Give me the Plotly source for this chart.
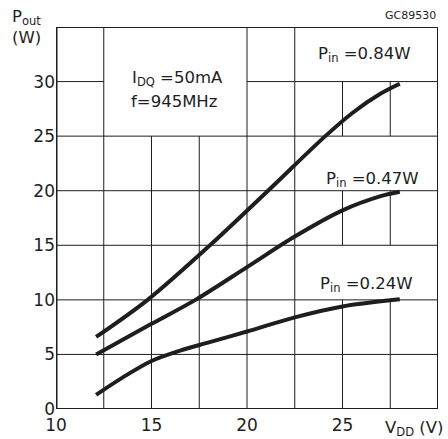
import plotly.graph_objects as go

# Data
vdd_084 = [12.1, 14.8, 18.06, 21.1, 24.1, 25.5, 27, 28]
pout_084 = [6.6, 10.0, 15.0, 20.0, 25.0, 27.1, 28.9, 29.8]

vdd_047 = [12.1, 15, 17.3, 20, 22.5, 25, 27, 28]
pout_047 = [5.0, 7.8, 10.0, 13.0, 15.8, 18.2, 19.5, 19.9]

vdd_024 = [12.1, 13.5, 15, 16.5, 18, 20, 22.5, 25, 28]
pout_024 = [1.3, 2.9, 4.4, 5.35, 6.1, 7.1, 8.4, 9.4, 10.05]

x_ticks = [10, 15, 20, 25]
y_ticks = [0, 5, 10, 15, 20, 25, 30]
x_grid = [12.5, 15, 17.5, 20, 22.5, 25, 27.5]
y_grid = [5, 10, 15, 20, 25, 30]
X_RANGE = [10, 30]
Y_RANGE = [0, 35]

# regions kept free of grid lines (label boxes): x0, x1, y0, y1
boxes = [(12.5, 20, 25, 35), (22.5, 30, 30, 35), (22.5, 30, 20, 25), (22.5, 30, 10, 15)]

INK = "#1e1e1e"
FONT = "DejaVu Sans"

fig = go.Figure()
for xs, ys in [(vdd_084, pout_084), (vdd_047, pout_047), (vdd_024, pout_024)]:
    fig.add_trace(go.Scatter(x=xs, y=ys, mode="lines",
                             line=dict(color=INK, width=4, shape="spline", smoothing=0.9),
                             hoverinfo="skip", showlegend=False))


def subtract(lo, hi, cuts):
    segs = [(lo, hi)]
    for a, b in cuts:
        new = []
        for s, e in segs:
            if b <= s or a >= e:
                new.append((s, e))
            else:
                if a > s:
                    new.append((s, a))
                if b < e:
                    new.append((b, e))
        segs = new
    return segs


shapes = []
for gx in x_grid:
    cuts = [(y0, y1) for x0, x1, y0, y1 in boxes if x0 < gx < x1]
    for s, e in subtract(Y_RANGE[0], Y_RANGE[1], cuts):
        shapes.append(dict(type="line", xref="x", yref="y", x0=gx, x1=gx, y0=s, y1=e,
                           line=dict(color=INK, width=1), layer="below"))
for gy in y_grid:
    cuts = [(x0, x1) for x0, x1, y0, y1 in boxes if y0 < gy < y1]
    for s, e in subtract(X_RANGE[0], X_RANGE[1], cuts):
        shapes.append(dict(type="line", xref="x", yref="y", x0=s, x1=e, y0=gy, y1=gy,
                           line=dict(color=INK, width=1), layer="below"))
# frame
shapes.append(dict(type="line", xref="x", yref="y", x0=10, x1=10, y0=0, y1=35,
                   line=dict(color=INK, width=3)))
shapes.append(dict(type="line", xref="x", yref="y", x0=10, x1=30, y0=0, y1=0,
                   line=dict(color=INK, width=2)))
shapes.append(dict(type="line", xref="x", yref="y", x0=30, x1=30, y0=0, y1=35,
                   line=dict(color=INK, width=2)))
shapes.append(dict(type="line", xref="x", yref="y", x0=10, x1=30, y0=35, y1=35,
                   line=dict(color=INK, width=2)))

tf = dict(family=FONT, size=16.5, color=INK)
tick_font = dict(family=FONT, size=17, color=INK)
ann = [
    dict(x=13.85, y=30.3, xref="x", yref="y", text="I<sub>DQ</sub> =50mA", showarrow=False,
         xanchor="left", yanchor="middle", font=tf),
    dict(x=13.8, y=28.2, xref="x", yref="y", text="f=945MHz", showarrow=False,
         xanchor="left", yanchor="middle", font=tf),
    dict(x=23.6, y=32.5, xref="x", yref="y", text="P<sub>in</sub> =0.84W", showarrow=False,
         xanchor="left", yanchor="middle", font=tf),
    dict(x=24.05, y=21.0, xref="x", yref="y", text="P<sub>in</sub> =0.47W", showarrow=False,
         xanchor="left", yanchor="middle", font=tf),
    dict(x=23.7, y=11.4, xref="x", yref="y", text="P<sub>in</sub> =0.24W", showarrow=False,
         xanchor="left", yanchor="middle", font=tf),
    dict(x=1.0, y=1.0, xref="paper", yref="paper", text="GC89530", showarrow=False,
         xanchor="right", yanchor="bottom", yshift=3, font=dict(family=FONT, size=11, color=INK)),
    dict(x=-0.12, y=1.0, xref="paper", yref="paper", text="P<sub>out</sub><br>(W)", showarrow=False,
         xanchor="left", yanchor="middle", align="left", font=tf),
    dict(x=1.022, y=0.0, xref="paper", yref="paper", text="V<sub>DD</sub> (V)", showarrow=False,
         xanchor="right", yanchor="top", yshift=-7, font=tf),
]

fig.update_layout(
    width=448, height=439,
    margin=dict(l=56, r=10, t=27, b=30, autoexpand=False),
    paper_bgcolor="white", plot_bgcolor="white",
    shapes=shapes, annotations=ann, showlegend=False,
    xaxis=dict(range=X_RANGE, tickvals=x_ticks, showgrid=False, zeroline=False,
               showline=False, ticks="", tickfont=tick_font, fixedrange=True,
               ticklabelstandoff=4, automargin=False),
    yaxis=dict(range=Y_RANGE, tickvals=y_ticks, showgrid=False, zeroline=False,
               showline=False, ticks="", tickfont=tick_font, fixedrange=True,
               automargin=False),
)

fig.write_html("out.html", config={"displayModeBar": False},
               post_script="document.body.style.margin='0';")
